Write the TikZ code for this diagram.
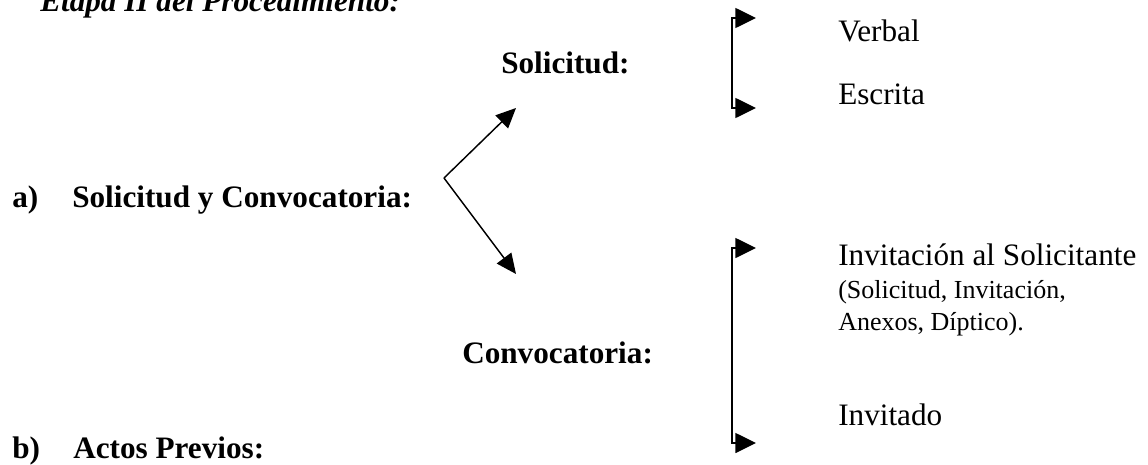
\documentclass[tikz,border=0pt]{standalone}
\usepackage{fontspec}
\setmainfont{Liberation Serif}
\usetikzlibrary{arrows.meta}
\begin{document}
\begin{tikzpicture}[x=0.75pt,y=-0.75pt,
  txt/.style={anchor=base west,inner sep=0pt,font=\fontsize{23.4}{28}\selectfont},
  btxt/.style={txt,font=\fontsize{23.4}{28}\selectfont\bfseries},
  stxt/.style={anchor=base west,inner sep=0pt,font=\fontsize{19.5}{24}\selectfont},
  ttl/.style={anchor=base west,inner sep=0pt,font=\fontsize{23.4}{28}\selectfont\bfseries\itshape},
  conn/.style={line width=1.1pt,-{Triangle[length=15pt,width=13.5pt]}},
  brk/.style={line width=1.1pt,{Triangle[length=15.5pt,width=15pt]}-{Triangle[length=15.5pt,width=15pt]}}]
\clip (0,0) rectangle (1148,464);
\useasboundingbox (0,0) rectangle (1148,464);
% title (cut at the top)
\node[ttl] (title) at (40,12) {Etapa II del Procedimiento:};
% left items
\node[btxt] (la) at (12,207) {a)};
\node[btxt] (sc) at (72,207) {Solicitud y Convocatoria:};
\node[btxt] (lb) at (12,458) {b)};
\node[btxt] (ap) at (73,458) {Actos Previos:};
% middle
\node[btxt] (sol) at (501,73) {Solicitud:};
\node[btxt] (conv) at (462,363) {Convocatoria:};
% right
\node[txt] (verbal) at (838,41) {Verbal};
\node[txt] (escrita) at (838,104) {Escrita};
\node[txt] (inv) at (838,265) {Invitación al Solicitante};
\node[stxt] (inv2) at (838,298) {(Solicitud, Invitación,};
\node[stxt] (inv3) at (838,330) {Anexos, Díptico).};
\node[txt] (invd) at (838,425) {Invitado};
% V arrows
\coordinate (vx) at (444,178);
\coordinate (tsol) at (516,108);
\coordinate (tconv) at (516,274);
\draw[conn] (vx) -- (tsol);
\draw[conn] (vx) -- (tconv);
% brackets
\coordinate (b1t) at (756,18);
\coordinate (b1b) at (756,108);
\coordinate (b2t) at (756,248);
\coordinate (b2b) at (756,443);
\draw[brk] (b1t) -- ([xshift=-24*0.75pt]b1t) |- (b1b);
\draw[brk] (b2t) -- ([xshift=-24*0.75pt]b2t) |- (b2b);
\end{tikzpicture}
\end{document}
